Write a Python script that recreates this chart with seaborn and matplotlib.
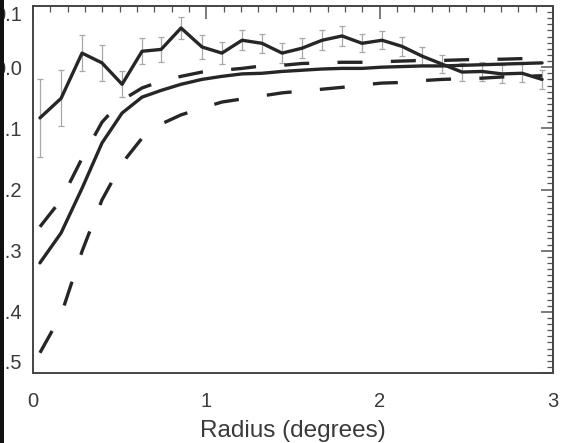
import numpy as np
import pandas as pd
import matplotlib
matplotlib.use("Agg")
import matplotlib.pyplot as plt
from matplotlib.ticker import MultipleLocator, FixedLocator
from matplotlib.patches import Rectangle
import seaborn as sns

# radius grid (degrees) of the profile bins
radius = [0.040, 0.162, 0.283, 0.398, 0.514, 0.629, 0.739, 0.854, 0.975, 1.090,
          1.206, 1.321, 1.437, 1.552, 1.668, 1.783, 1.898, 2.014, 2.129, 2.245,
          2.360, 2.475, 2.591, 2.706, 2.822, 2.937]

# measured profile with 1-sigma errors
data = [-0.083, -0.051, 0.023, 0.007, -0.028, 0.026, 0.029, 0.064, 0.033, 0.023,
        0.044, 0.039, 0.023, 0.031, 0.044, 0.051, 0.039, 0.044, 0.034, 0.018,
        0.005, -0.008, -0.007, -0.011, -0.010, -0.020]
data_err = [0.064, 0.046, 0.029, 0.029, 0.021, 0.021, 0.020, 0.018, 0.019, 0.018,
            0.016, 0.016, 0.016, 0.016, 0.016, 0.016, 0.015, 0.015, 0.015, 0.015,
            0.015, 0.015, 0.015, 0.015, 0.015, 0.015]

# model and its upper / lower envelope
model = [-0.320, -0.271, -0.198, -0.124, -0.075, -0.049, -0.038, -0.028, -0.020, -0.015,
         -0.011, -0.010, -0.007, -0.005, -0.003, -0.002, -0.002, 0.000, 0.001, 0.002,
         0.002, 0.003, 0.004, 0.005, 0.006, 0.007]
model_hi = [-0.261, -0.217, -0.149, -0.090, -0.054, -0.034, -0.023, -0.015, -0.008, -0.005,
            -0.002, 0.002, 0.003, 0.006, 0.007, 0.008, 0.008, 0.009, 0.010, 0.011,
            0.011, 0.012, 0.013, 0.013, 0.014, 0.015]
model_lo = [-0.467, -0.405, -0.301, -0.217, -0.157, -0.116, -0.093, -0.078, -0.067, -0.057,
            -0.052, -0.047, -0.042, -0.039, -0.036, -0.033, -0.029, -0.026, -0.025, -0.022,
            -0.020, -0.019, -0.018, -0.016, -0.015, -0.014]

yticks = [0.1, 0.0, -0.1, -0.2, -0.3, -0.4, -0.5]
ytick_labels = ["0.1", "0.0", "-0.1", "-0.2", "-0.3", "-0.4", "-0.5"]
xticks = [0, 1, 2, 3]

df = pd.DataFrame({"radius": radius, "data": data, "err": data_err,
                   "model": model, "hi": model_hi, "lo": model_lo})

sns.set_style("white")
plt.rcParams['font.family'] = ['Liberation Sans', 'DejaVu Sans']

W, H = 564, 443
fig = plt.figure(figsize=(W / 100, H / 100), dpi=100)
ax = fig.add_axes([33 / W, (H - 373) / H, (553 - 33) / W, (373 - 6) / H])

ink = "#262626"
dash = (0, (7.5, 8.5))

ax.errorbar(df["radius"], df["data"], yerr=df["err"], fmt="none",
            ecolor="#a4aaa4", elinewidth=0.9, capsize=2.5, capthick=0.9, zorder=1)
sns.lineplot(data=df, x="radius", y="data", ax=ax, color=ink, lw=2.4, zorder=3)
sns.lineplot(data=df, x="radius", y="model", ax=ax, color=ink, lw=2.4, zorder=3)
sns.lineplot(data=df, x="radius", y="hi", ax=ax, color=ink, lw=2.4, linestyle=dash, zorder=3)
sns.lineplot(data=df, x="radius", y="lo", ax=ax, color=ink, lw=2.4, linestyle=dash, zorder=3)

ax.set_xlim(0, 3)
ax.set_ylim(-0.5, 0.1)
ax.xaxis.set_major_locator(FixedLocator(xticks))
ax.xaxis.set_minor_locator(MultipleLocator(0.1))
ax.yaxis.set_major_locator(FixedLocator(yticks))
ax.yaxis.set_minor_locator(MultipleLocator(0.01))
ax.set_yticklabels(ytick_labels)
ax.tick_params(which="both", direction="in", top=True, right=True, color="#555555",
               labelsize=14.5, labelcolor="#3a3a3a")
ax.tick_params(which="major", length=9, width=1.1)
ax.tick_params(which="minor", length=4.5, width=0.9)
ax.tick_params(axis="x", which="major", pad=14)
ax.tick_params(axis="y", which="major", pad=8)
for s in ax.spines.values():
    s.set_color("#444444")
    s.set_linewidth(1.4)

# keep the end labels inside the frame, as the original plot does
ylabs = ax.get_yticklabels()
ylabs[0].set_va("top")
ylabs[-1].set_va("bottom")

ax.set_xlabel("Radius (degrees)", fontsize=17.5, color="#3a3a3a", labelpad=6)
ax.set_ylabel("")

# dark strip at the left edge of the screen grab
fig.patches.append(Rectangle((0, 0), 4 / W, 1, transform=fig.transFigure,
                             facecolor="#111111", edgecolor="none", zorder=10))

fig.savefig("out.png", dpi=100)
